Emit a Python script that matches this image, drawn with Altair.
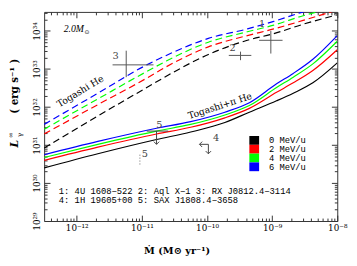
import altair as alt
import pandas as pd

# ---------------- data ----------------
energies = ["0 MeV/u", "2 MeV/u", "4 MeV/u", "6 MeV/u"]
colors = ["#000000", "#ff0000", "#00ff00", "#0000ff"]

# Togashi He (dashed)
mdot_he = [3.16e-13, 2.11e-12, 1.19e-11, 2.37e-11, 1.05e-10, 4.17e-10, 1.06e-9, 2.99e-9, 1.0e-8]
L_he_0 = [8.28e30, 5.81e31, 3.24e32, 6.43e32, 2.40e33, 5.68e33, 8.47e33, 1.50e34, 2.66e34]
L_he_2 = [1.95e31, 1.15e32, 5.74e32, 1.14e33, 3.80e33, 7.55e33, 1.13e34, 1.89e34, 3.55e34]
L_he_4 = [2.60e31, 1.63e32, 8.57e32, 1.61e33, 5.06e33, 9.51e33, 1.42e34, 2.51e34, 4.21e34]
L_he_6 = [3.47e31, 2.30e32, 1.28e33, 2.27e33, 6.35e33, 1.13e34, 1.78e34, 3.16e34, 5.30e34]

# Togashi+pi He (solid)
mdot_pi = [3.16e-13, 2.11e-12, 1.68e-11, 5.62e-11, 1.88e-10, 4.47e-10, 1.17e-9, 2.11e-9, 4.22e-9, 1.0e-8]
L_pi_0 = [2.49e30, 5.87e30, 1.39e31, 2.19e31, 3.89e31, 7.29e31, 1.45e32, 2.30e32, 4.31e32, 1.44e33]
L_pi_2 = [3.94e30, 8.77e30, 1.95e31, 2.92e31, 5.18e31, 9.18e31, 2.43e32, 4.31e32, 9.08e32, 3.20e33]
L_pi_4 = [4.67e30, 1.04e31, 2.32e31, 3.47e31, 6.15e31, 1.09e32, 3.24e32, 6.08e32, 1.36e33, 5.36e33]
L_pi_6 = [5.55e30, 1.24e31, 2.75e31, 4.11e31, 7.29e31, 1.29e32, 4.06e32, 7.64e32, 1.80e33, 7.55e33]

# observed sources with error bars (1, 2, 3)
src_mdot = [9.55e-10, 3.27e-10, 5.75e-12]
src_mdot_lo = [6.31e-10, 2.16e-10, 3.55e-12]
src_mdot_hi = [1.445e-9, 4.79e-10, 1.51e-11]
src_L = [5.67e33, 2.27e33, 1.28e33]
src_L_lo = [2.54e33, 1.70e33, 6.08e32]
src_L_hi = [1.0e34, 2.85e33, 3.02e33]

# upper-limit segments (sources 4 and 5)
seg_x = [1.05e-10, 1.05e-10, 1.19e-11, 1.68e-11]
seg_x2 = [7.67e-11, 1.05e-10, 2.54e-11, 1.68e-11]
seg_y = [1.04e31, 1.04e31, 2.32e31, 2.32e31]
seg_y2 = [1.04e31, 5.87e30, 2.32e31, 1.04e31]
arrow_down_x = [1.05e-10, 1.68e-11]
arrow_down_y = [5.87e30, 1.04e31]
arrow_left_x = [7.67e-11]
arrow_left_y = [1.04e31]
dot_x = [9.33e-12]
dot_y = [5.55e30]
dot_y2 = [2.79e30]

# source number labels
lab_text = ["1", "2", "3", "4", "5", "5"]
lab_x = [7.0e-10, 2.48e-10, 3.94e-12, 1.38e-10, 1.86e-11, 1.11e-11]
lab_y = [1.5e34, 3.5e33, 2.2e33, 1.55e31, 3.27e31, 5.87e30]

source_lines = ["1: 4U 1608\u2212522 2: Aql X\u22121 3: RX J0812.4\u22123114",
                "4: 1H 19605+00 5: SAX J1808.4\u22123658"]

x_major = [1e-12, 1e-11, 1e-10, 1e-9, 1e-8]
y_major = [1e29, 1e30, 1e31, 1e32, 1e33, 1e34]
x_minor = [k * 10.0 ** d for d in range(-13, -8) for k in range(2, 10) if 3.162e-13 <= k * 10.0 ** d <= 1e-8]
y_minor = [k * 10.0 ** d for d in range(29, 35) for k in range(2, 10) if k * 10.0 ** d <= 3.162e34]

# ---------------- tables ----------------
he_rows, pi_rows = [], []
for e, Ls in zip(energies, [L_he_0, L_he_2, L_he_4, L_he_6]):
    for m, L in zip(mdot_he, Ls):
        he_rows.append({"mdot": m, "L": L, "energy": e})
for e, Ls in zip(energies, [L_pi_0, L_pi_2, L_pi_4, L_pi_6]):
    for m, L in zip(mdot_pi, Ls):
        pi_rows.append({"mdot": m, "L": L, "energy": e})
he_df = pd.DataFrame(he_rows)
pi_df = pd.DataFrame(pi_rows)
src_df = pd.DataFrame({"m": src_mdot, "mlo": src_mdot_lo, "mhi": src_mdot_hi,
                       "L": src_L, "Llo": src_L_lo, "Lhi": src_L_hi})
seg_df = pd.DataFrame({"x": seg_x, "x2": seg_x2, "y": seg_y, "y2": seg_y2})
down_df = pd.DataFrame({"x": arrow_down_x, "y": arrow_down_y})
left_df = pd.DataFrame({"x": arrow_left_x, "y": arrow_left_y})
dot_df = pd.DataFrame({"x": dot_x, "y": dot_y, "y2": dot_y2})
lab_df = pd.DataFrame({"x": lab_x, "y": lab_y, "t": lab_text})

W, H = 300, 214
xscale = alt.Scale(type="log", domain=[3.162e-13, 1e-8], nice=False)
yscale = alt.Scale(type="log", domain=[1e29, 3.162e34], nice=False)
cscale = alt.Scale(domain=energies, range=colors)

sup = str.maketrans("-0123456789", "\u207b\u2070\u00b9\u00b2\u00b3\u2074\u2075\u2076\u2077\u2078\u2079")


def label_expr(exps):
    parts = [f"abs(log(datum.value)/LN10 - ({e})) < 0.01 ? '10{str(e).translate(sup)}'" for e in exps]
    return " : ".join(parts) + " : ''"


SERIF = "DejaVu Serif"
MONO = "Liberation Mono"

x_lab = alt.Axis(orient="bottom", values=x_major, labelExpr=label_expr(range(-12, -7)),
                 ticks=False, tickSize=0, labelPadding=3, labelFont=SERIF, labelFontSize=9,
                 labelColor="black", labelFlush=False, labelOverlap=False,
                 domain=False, grid=False, title=None)
y_lab = alt.Axis(orient="left", values=y_major, labelExpr=label_expr(range(29, 35)),
                 ticks=False, tickSize=0, labelAngle=270, labelAlign="center",
                 labelBaseline="bottom", labelPadding=3, labelFont=SERIF, labelFontSize=9,
                 labelColor="black", labelFlush=False, labelOverlap=False,
                 domain=False, grid=False, title=None)


def tick_axis(orient, values, size, offset):
    return alt.Axis(orient=orient, values=values, labels=False, ticks=True, tickSize=size,
                    tickColor="#333333", tickWidth=1, domain=False, grid=False,
                    title=None, offset=offset)


def X(field, axis=None):
    return alt.X(field, type="quantitative", scale=xscale, axis=axis)


def Y(field, axis=None):
    return alt.Y(field, type="quantitative", scale=yscale, axis=axis)


dashed = alt.Chart(he_df).mark_line(strokeDash=[7, 4], strokeWidth=1.2, clip=True,
                                    interpolate="monotone").encode(
    x=X("mdot", x_lab), y=Y("L", y_lab),
    color=alt.Color("energy:N", scale=cscale, legend=None))

solid = alt.Chart(pi_df).mark_line(strokeWidth=1.2, clip=True, interpolate="monotone").encode(
    x=X("mdot", tick_axis("top", x_major, 6, -H)),
    y=Y("L", tick_axis("right", y_major, 6, -W)),
    color=alt.Color("energy:N", scale=cscale, legend=None))

cross_h = alt.Chart(src_df).mark_rule(color="#555555", strokeWidth=1).encode(
    x=X("mlo", tick_axis("top", x_minor, 3, -H)), x2="mhi",
    y=Y("L", tick_axis("right", y_minor, 3, -W)))
cross_v = alt.Chart(src_df).mark_rule(color="#555555", strokeWidth=1).encode(
    x=X("m", tick_axis("bottom", x_major, 6, -H)),
    y=Y("Llo", tick_axis("left", y_major, 6, -W)), y2="Lhi")

segs = alt.Chart(seg_df).mark_rule(color="#444444", strokeWidth=1).encode(
    x=X("x", tick_axis("bottom", x_minor, 3, -H)), x2="x2",
    y=Y("y", tick_axis("left", y_minor, 3, -W)), y2="y2")

down_path = "M-1,-1L0,0L1,-1"
left_path = "M1,-1L0,0L1,1"
arr_down = alt.Chart(down_df).mark_point(shape=down_path, size=30, filled=False,
                                         color="#444444", strokeWidth=1, opacity=1).encode(
    x=X("x"), y=Y("y"))
arr_left = alt.Chart(left_df).mark_point(shape=left_path, size=30, filled=False,
                                         color="#444444", strokeWidth=1, opacity=1).encode(
    x=X("x"), y=Y("y"))
dotted = alt.Chart(dot_df).mark_rule(color="#666666", strokeWidth=1, strokeDash=[1, 2]).encode(
    x=X("x"), y=Y("y"), y2="y2")

labels = alt.Chart(lab_df).mark_text(font=SERIF, fontSize=10, color="#444444").encode(
    x=X("x"), y=Y("y"), text="t:N")

curve_lab1 = alt.Chart(pd.DataFrame({"x": [1.135e-12], "y": [2.57e32], "t": ["Togashi He"]})).mark_text(
    font=SERIF, fontSize=9.5, angle=329, color="black").encode(x=X("x"), y=Y("y"), text="t:N")
curve_lab2 = alt.Chart(pd.DataFrame({"x": [1.585e-10], "y": [1.06e32], "t": ["Togashi+\u03c0 He"]})).mark_text(
    font=SERIF, fontSize=9.5, angle=342, color="black").encode(x=X("x"), y=Y("y"), text="t:N")

mass_lab = alt.Chart(pd.DataFrame({"x": [6.3e-13], "y": [1.12e34], "t": ["2.0M"]})).mark_text(
    font="Liberation Serif", fontStyle="italic", fontSize=10, align="left", color="black").encode(
    x=X("x"), y=Y("y"), text="t:N")
mass_sun = alt.Chart(pd.DataFrame({"x": [1.32e-12], "y": [9.4e33], "t": ["\u2299"]})).mark_text(
    font="DejaVu Sans", fontSize=6, align="left", color="black").encode(
    x=X("x"), y=Y("y"), text="t:N")


def pix_text(txt, x, y, **kw):
    return alt.Chart(pd.DataFrame({"t": [txt]})).mark_text(**kw).encode(
        x=alt.value(x), y=alt.value(y), text="t:N")


src_text1 = pix_text(source_lines[0], 15, 183, font=MONO, fontSize=9, align="left",
                     baseline="middle", color="black")
src_text2 = pix_text(source_lines[1], 15, 193, font=MONO, fontSize=9, align="left",
                     baseline="middle", color="black")

# colour key (drawn as a block of swatches + labels, like the reference)
KEY_X, KEY_TOP, KEY_ROW, KEY_W = 210, 127, 9, 10
key_layers = []
for i, (e, c) in enumerate(zip(energies, colors)):
    top = KEY_TOP + i * KEY_ROW
    key_layers.append(
        alt.Chart(pd.DataFrame({"e": [e]})).mark_rect(color=c).encode(
            x=alt.value(KEY_X), x2=alt.value(KEY_X + KEY_W),
            y=alt.value(top), y2=alt.value(top + KEY_ROW)))
    key_layers.append(pix_text(e, KEY_X + 20, top + KEY_ROW / 2, font=MONO, fontSize=9,
                               align="left", baseline="middle", color="black"))

xtitle = pix_text("\u1e40 (M\u2299 yr\u207b\u00b9)", 136, 245, font=SERIF, fontSize=10,
                  fontWeight="bold", align="center", baseline="middle", color="black")
ytitle = pix_text("( erg s\u207b\u00b9 )", -30, 76, font=SERIF, fontSize=10.5, fontWeight="bold",
                  angle=270, align="center", baseline="middle", color="black")
ytitle_L = pix_text("L", -30, 135, font=SERIF, fontSize=11, fontWeight="bold", fontStyle="italic",
                    angle=270, align="center", baseline="middle", color="black")
ytitle_g = pix_text("\u03b3", -25, 126, font=SERIF, fontSize=7, angle=270, align="center",
                    baseline="middle", color="black")
ytitle_inf = pix_text("\u221e", -34, 126, font=SERIF, fontSize=7, angle=270, align="center",
                      baseline="middle", color="black")

chart = alt.layer(
    dashed, solid, cross_h, cross_v, segs, arr_down, arr_left, dotted, labels,
    curve_lab1, curve_lab2, mass_lab, mass_sun, src_text1, src_text2,
    *key_layers,
    xtitle, ytitle, ytitle_L, ytitle_g, ytitle_inf
).resolve_axis(x="independent", y="independent").properties(
    width=W, height=H,
    autosize=alt.AutoSizeParams(type="none"),
    padding={"left": 37, "top": 1, "right": 12, "bottom": 42},
).configure_view(stroke="#333333", strokeWidth=1)

chart.save("out.html", embed_options={"renderer": "svg", "actions": False})
